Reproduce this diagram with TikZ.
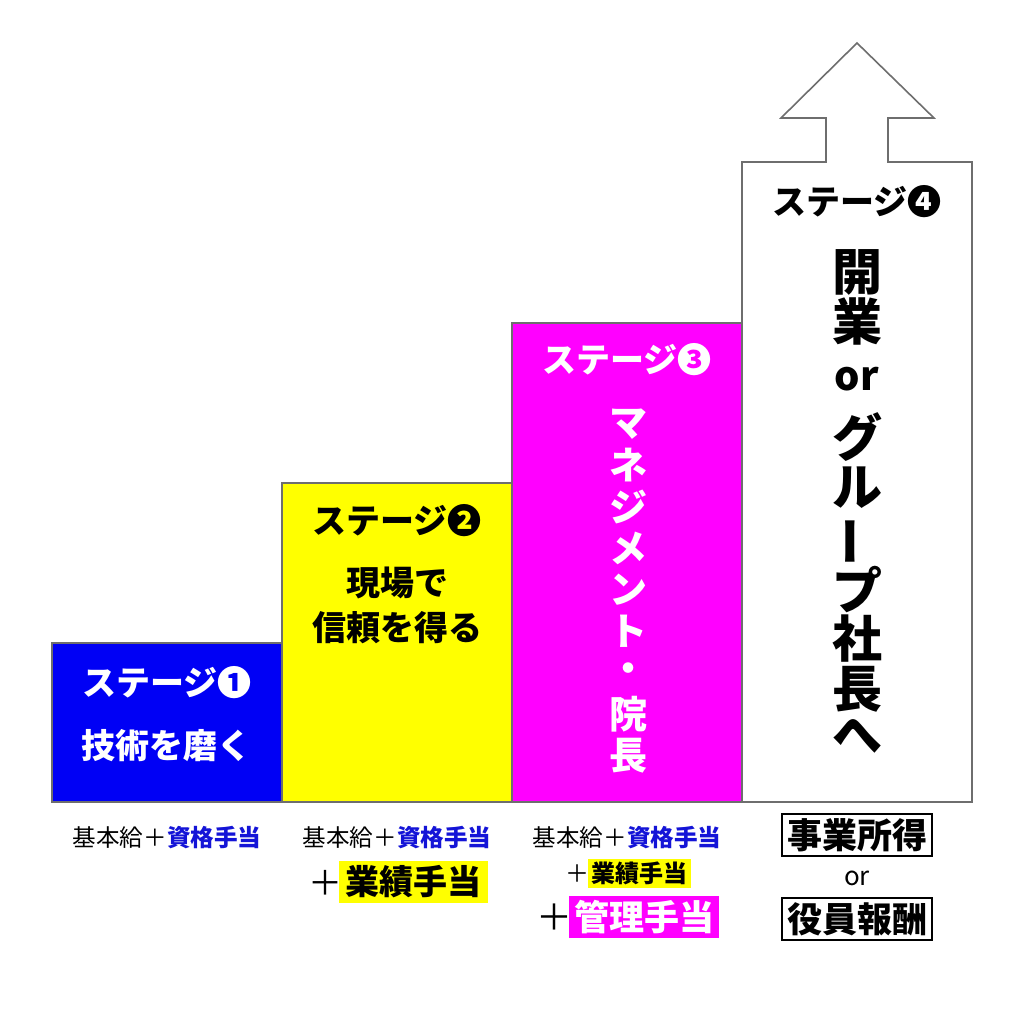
\documentclass[tikz,border=0pt]{standalone}
\usepackage{fontspec}
\setmainfont{Noto Sans CJK JP}
\definecolor{sblue}{RGB}{0,0,245}
\definecolor{syellow}{RGB}{255,255,0}
\definecolor{smag}{RGB}{255,0,255}
\definecolor{tblue}{RGB}{20,20,215}
\definecolor{edge}{RGB}{110,110,110}
\tikzset{
  stepbox/.style={draw=edge, line width=0.8pt},
  lbl/.style={inner sep=0pt, font=\fontsize{17}{17}\selectfont\bfseries},
  vt3/.style={inner sep=0pt, text=white, font=\fontsize{19}{19}\selectfont\bfseries},
  vt4/.style={inner sep=0pt, font=\fontsize{25}{25}\selectfont\bfseries},
  small/.style={inner sep=0pt, font=\fontsize{11.8}{11.8}\selectfont},
  hl/.style={inner sep=0pt, font=\bfseries},
  framed/.style={draw=black, line width=0.8pt, fill=white, inner sep=0pt,
    minimum width=75pt, minimum height=21pt, font=\fontsize{17.5}{17.5}\selectfont\bfseries}
}
\begin{document}
\begin{tikzpicture}[x=0.5pt,y=-0.5pt]
\useasboundingbox[fill=white] (0,0) rectangle (1024,1024);
% stages
\draw[stepbox, fill=sblue] (52,643) rectangle (282,802);
\draw[stepbox, fill=syellow] (282,483) rectangle (512,802);
\draw[stepbox, fill=smag] (512,323) rectangle (742,802);
\draw[stepbox, fill=white] (742,802) -- (742,162) -- (826,162) -- (826,118) -- (781,118)
  -- (857,43) -- (934,118) -- (888,118) -- (888,162) -- (972,162) -- (972,802) -- cycle;
% stage 1
\node[lbl, text=white] (s1) at (167,683) {ステージ❶};
\node[lbl, text=white] (d1) at (167,746) {技術を磨く};
% stage 2
\node[lbl] (s2) at (397,521) {ステージ❷};
\node[lbl] (d2a) at (397,583) {現場で};
\node[lbl] (d2b) at (397,628) {信頼を得る};
% stage 3
\node[lbl, text=white] (s3) at (627,360) {ステージ❸};
\foreach \c [count=\i from 0] in {マ,ネ,ジ,メ,ン,ト,・,院,長}
  \node[vt3] (v3-\i) at (628,424+41.5*\i) {\c};
% stage 4
\node[lbl] (s4) at (857,202) {ステージ❹};
\node[vt4] (v4a) at (857,272) {開};
\node[vt4] (v4b) at (857,321) {業};
\node[vt4, font=\fontsize{20}{20}\selectfont\bfseries] (v4or) at (857,379) {or};
\node[vt4] (v4c) at (857,437) {グ};
\node[vt4] (v4d) at (857,488) {ル};
\node[vt4, rotate=90] (v4e) at (857,541) {ー};
\node[vt4] (v4f) at (857,590) {プ};
\node[vt4] (v4g) at (857,639) {社};
\node[vt4] (v4h) at (857,689) {長};
\node[vt4] (v4i) at (857,736) {へ};
% bottom: column 1
\node[small] (b1) at (167,838) {基本給＋{\bfseries\color{tblue}資格手当}};
% column 2
\node[small] (b2) at (397,838) {基本給＋{\bfseries\color{tblue}資格手当}};
\node[inner sep=0pt, font=\fontsize{17}{17}\selectfont] (p2) at (325,883) {＋};
\node[hl, fill=syellow, minimum width=74.5pt, minimum height=21pt, font=\fontsize{17}{17}\selectfont\bfseries] (h2) at (413.5,882) {業績手当};
% column 3
\node[small] (b3) at (627,838) {基本給＋{\bfseries\color{tblue}資格手当}};
\node[inner sep=0pt, font=\fontsize{12}{12}\selectfont] (p3a) at (577,874) {＋};
\node[hl, fill=syellow, minimum width=51.5pt, minimum height=14.5pt, font=\fontsize{12}{12}\selectfont\bfseries] (h3a) at (639.5,873.5) {業績手当};
\node[inner sep=0pt, font=\fontsize{18}{18}\selectfont] (p3b) at (554,917) {＋};
\node[hl, fill=smag, text=white, minimum width=75pt, minimum height=21pt, font=\fontsize{17.5}{17.5}\selectfont\bfseries] (h3b) at (644,917) {管理手当};
% column 4
\node[framed] (f1) at (857,835) {事業所得};
\node[inner sep=0pt, font=\fontsize{13}{13}\selectfont] (or4) at (857,878) {or};
\node[framed] (f2) at (857,919) {役員報酬};
\end{tikzpicture}
\end{document}
